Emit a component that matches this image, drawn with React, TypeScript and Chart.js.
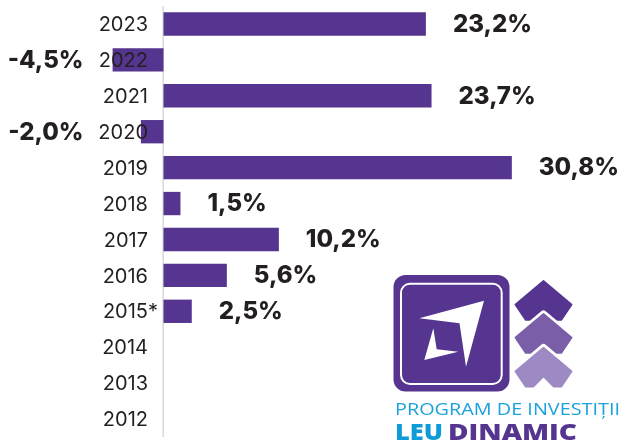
import React, { useEffect, useRef } from "react";
import { Chart, registerables } from "chart.js";

Chart.register(...registerables);

const categories: string[] = ["2023", "2022", "2021", "2020", "2019", "2018", "2017", "2016", "2015*", "2014", "2013", "2012"];
const growth: (number | null)[] = [23.2, -4.5, 23.7, -2.0, 30.8, 1.5, 10.2, 5.6, 2.5, null, null, null];

const BAR = "#553590";
const TEXT = "#231f20";

const fmt = (v: number) => v.toFixed(1).replace(".", ",") + "%";

const labelsPlugin = {
  id: "customLabels",
  beforeDatasetsDraw(chart: any) {
    const { ctx, chartArea, scales } = chart;
    const zero = scales.x.getPixelForValue(0);
    ctx.save();
    ctx.strokeStyle = "#d8d8d8";
    ctx.lineWidth = 1.5;
    ctx.beginPath();
    ctx.moveTo(zero - 0.3, chartArea.top);
    ctx.lineTo(zero - 0.3, chartArea.bottom);
    ctx.stroke();
    ctx.restore();
  },
  afterDatasetsDraw(chart: any) {
    const { ctx, scales } = chart;
    const x = scales.x;
    const y = scales.y;
    const zero = x.getPixelForValue(0);
    const meta = chart.getDatasetMeta(0);
    ctx.save();
    ctx.textBaseline = "alphabetic";
    ctx.fillStyle = TEXT;
    // year labels
    ctx.font = '20px Inter, "Liberation Sans", sans-serif';
    ctx.textAlign = "left";
    categories.forEach((c, i) => {
      const cy = y.getPixelForValue(i);
      const base = c.replace("*", "");
      const w = ctx.measureText(base).width;
      ctx.fillText(c, zero - 15.5 - w, cy + 7.2);
    });
    // value labels
    ctx.font = '800 24px Inter, "Liberation Sans", sans-serif';
    growth.forEach((v, i) => {
      if (v === null) return;
      const el = meta.data[i];
      const cy = y.getPixelForValue(i);
      if (v >= 0) {
        ctx.textAlign = "left";
        ctx.fillText(fmt(v), el.x + 27, cy + 7.8);
      } else {
        ctx.textAlign = "right";
        ctx.fillText(fmt(v), zero - 80, cy + 7.8);
      }
    });
    ctx.restore();
  },
};

function Chevron({ y0, color }: { y0: number; color: string }) {
  const cx = 543.5;
  const pts = [
    [0, 0],
    [28.2, 23.8],
    [17.8, 39.2],
    [10.2, 39.2],
    [0, 29],
    [-10.2, 39.2],
    [-17.8, 39.2],
    [-28.2, 23.8],
  ]
    .map(([dx, dy]) => `${cx + dx},${y0 + dy}`)
    .join(" ");
  return (
    <g>
      <polygon points={pts} fill="#ffffff" stroke="#ffffff" strokeWidth={7} strokeLinejoin="round" />
      <polygon points={pts} fill={color} stroke={color} strokeWidth={1.6} strokeLinejoin="round" />
    </g>
  );
}

function Logo() {
  return (
    <svg
      width={623}
      height={440}
      style={{ position: "absolute", left: 0, top: 0, pointerEvents: "none" }}
    >
      <rect x={393.5} y={275} width={116} height={116.5} rx={12} fill={BAR} />
      <rect x={401} y={283.7} width={100.7} height={100.3} rx={9} fill="none" stroke="#ffffff" strokeWidth={2} />
      <polygon points="419.3,318.3 484,300.7 466,366.7 459.5,323.3" fill="#ffffff" />
      <polygon points="433.3,328.3 424.3,360 458.3,351.7 436.7,349.3" fill="#ffffff" />
      <Chevron y0={280.8} color={BAR} />
      <Chevron y0={313.8} color="#7a5fa8" />
      <Chevron y0={347.5} color="#9d8ac4" />
      <text
        x={395}
        y={414.5}
        fill="#1ba1dc"
        fontFamily='"Open Sans", sans-serif'
        fontSize={15.5}
        textLength={225}
        lengthAdjust="spacingAndGlyphs"
      >
        PROGRAM DE INVESTIȚII
      </text>
      <text
        x={395}
        y={440}
        fill="#0e9bd8"
        fontFamily='"Open Sans", sans-serif'
        fontWeight={800}
        fontSize={22.5}
        textLength={48}
        lengthAdjust="spacingAndGlyphs"
      >
        LEU
      </text>
      <text
        x={448}
        y={440}
        fill={BAR}
        fontFamily='"Open Sans", sans-serif'
        fontWeight={800}
        fontSize={22.5}
        textLength={129}
        lengthAdjust="spacingAndGlyphs"
      >
        DINAMIC
      </text>
    </svg>
  );
}

export default function App() {
  const ref = useRef<HTMLCanvasElement | null>(null);

  useEffect(() => {
    if (!ref.current) return;
    const chart = new Chart(ref.current, {
      type: "bar",
      data: {
        labels: categories,
        datasets: [
          {
            data: growth as any,
            backgroundColor: BAR,
            borderWidth: 0,
            barPercentage: 0.65,
            categoryPercentage: 1,
          },
        ],
      },
      options: {
        indexAxis: "y",
        responsive: false,
        maintainAspectRatio: false,
        animation: false,
        devicePixelRatio: 1,
        layout: { padding: { top: 6, bottom: 3, left: 0, right: 0 } },
        scales: {
          x: { display: false, min: -14.456, max: 40.628 },
          y: { display: false },
        },
        plugins: {
          legend: { display: false },
          tooltip: { enabled: false },
        },
      },
      plugins: [labelsPlugin],
    });
    return () => chart.destroy();
  }, []);

  return (
    <div style={{ position: "fixed", left: 0, top: 0, width: 623, height: 440, background: "#ffffff" }}>
      <canvas ref={ref} width={623} height={440} style={{ display: "block" }} />
      <Logo />
    </div>
  );
}
